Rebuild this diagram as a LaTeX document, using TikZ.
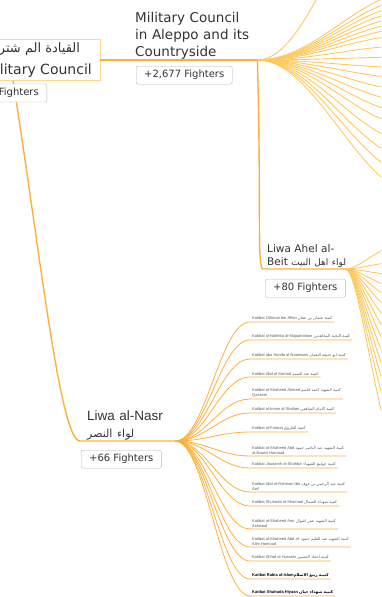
\documentclass[tikz,border=0pt]{standalone}
\usepackage{fontspec}
\setmainfont{DejaVu Sans}
\newfontfamily\arabicfont[Script=Arabic]{DejaVu Sans}
\newfontfamily\helv{Liberation Sans}
\TeXXeTstate=1
\newcommand{\artxt}[1]{{\arabicfont\beginR #1\endR}}
\definecolor{branchcol}{HTML}{FBB03B}
\definecolor{fancol}{HTML}{FFC85C}
\definecolor{rootedge}{HTML}{FCD98C}
\definecolor{boxedge}{HTML}{B5B5B5}
\definecolor{ink}{HTML}{333333}

\begin{document}
\begin{tikzpicture}[x=1pt,y=-1pt,text=ink]

\tikzstyle{title}=[inner sep=0pt,align=left]
\tikzstyle{count}=[draw=boxedge,fill=white,rounded corners=2pt,inner xsep=8pt,
	minimum height=18pt,font=\fontsize{10}{12}\selectfont]
\tikzstyle{katiba}=[inner xsep=2pt,inner ysep=1.2pt,align=left,
	font=\helv\fontsize{4}{5.5}\selectfont,text=black!65]
\tikzstyle{trunk}=[draw=branchcol,line width=1.4pt]
\tikzstyle{twig}=[draw=fancol,line width=0.9pt]
\tikzstyle{leaf}=[draw=branchcol,line width=0.8pt]

\useasboundingbox (0,0) rectangle (381,597);
\clip (0,0) rectangle (381,597);

\node[draw=rootedge,fill=white,align=center,inner xsep=8pt,inner ysep=3pt,
	font=\fontsize{14}{22}\selectfont,anchor=east](root) at (100,60)
	{\artxt{\fontsize{13}{22}\selectfont القيادة الم شتركة}\hspace*{10pt}\\Military Council};

\node[title,anchor=south west,text width=122pt,
	font=\fontsize{13.5}{17}\selectfont](alep) at (135,60)
	{Military Council\\in Aleppo and its\\Countryside};

\node[title,anchor=south west,text width=74pt,inner xsep=4pt,inner ysep=1pt,
	font=\fontsize{10.5}{13}\selectfont](beit) at (263,269)
	{Liwa Ahel al-\\\mbox{Beit \artxt{\fontsize{9}{13}\selectfont لواء اهل البيت}}};

\node[title,anchor=south west,text width=81pt,inner xsep=7pt,inner ysep=1pt,
	font=\helv\fontsize{13.5}{17}\selectfont](nasr) at (80,441)
	{Liwa al-Nasr\\{\fontsize{11}{17}\selectfont\artxt{لواء النصر}}};

\draw[trunk](root.east) -- (alep.south west) -- (alep.south east);
\draw[trunk](alep.south east) .. controls +(4,150) and +(-6,0) .. (beit.south west)
	-- (beit.south east);
\draw[trunk]([xshift=-87pt]root.south east) .. controls +(27,170) and +(-20,0) .. (nasr.south west)
	-- (nasr.south east);

% off-page children
\foreach \y [count=\i] in {-150,-10,-3,3,9,15,21,27,34,45,57,68,79,91,103,115,128,145,162,178,195}{
	\coordinate (a\i) at (420,\y);
	\draw[twig](alep.south east) .. controls +(60,0) and +(-60,0) .. (a\i);
}
\foreach \y [count=\i] in {245,262,275,288,300,313,327,342,358,375,392,410,430,455}{
	\coordinate (b\i) at (400,\y);
	\draw[twig](beit.south east) .. controls +(15,0) and +(-20,0) .. (b\i);
}

\foreach \y/\txt [count=\i] in {
	322/{Katibat Othman bin Affan \artxt{كتيبة عثمان بن عفان}},
	340/{Katibat al-Nakhba al-Mujaahidoon \artxt{كتيبة النخبة المجاهدين}},
	359/{Katibat abu Hanifa al-Naamaan \artxt{كتيبة ابو حنيفة النعمان}},
	377/{Katibat Abd al-Somad \artxt{كتيبة عبد الصمد}},
	399/{Katibat al-Shaheed Ahmed \artxt{كتيبة الشهيد احمد قاسم}\\Qassem},
	413/{Katibat al-Imam al-Shafaei \artxt{كتيبة الامام الشافعي}},
	432/{Katibat al-Farouq \artxt{كتيبة الفاروق}},
	456/{Katibat al-Shaheed Abd \artxt{كتيبة الشهيد عبد الناصر حمود}\\al-Naasir Hamoud},
	468/{Katibat Jouaamh al-Shahba' \artxt{كتيبة جوامع الشهباء}},
	492/{Katibat Abd al-Rahman Ibn \artxt{كتيبة عبد الرحمن بن عوف}\\Awf},
	506/{Katibat Shuhada al-Shamaal \artxt{كتيبة شهداء الشمال}},
	529/{Katibat al-Shaheed Amr \artxt{كتيبة الشهيد عمر اشوال}\\Ashwaal},
	547/{Katibat al-Shaheed Abd al- \artxt{كتيبة الشهيد عبد العليم حمود}\\Alim Hamoud},
	561/{Katibat Ahfad al-Hussein \artxt{كتيبة احفاد الحسين}},
	579/{\bfseries\color{black}Katibat Rabia al-Islam\artxt{كتيبة ربيع الاسلام}},
	596/{\bfseries\color{black}Katibat Shuhada Hiyaan \artxt{كتيبة شهداء حيان}}}{
	\node[katiba,anchor=south west](k\i) at (250,\y){\txt};
	\draw[leaf](nasr.south east) .. controls +(30,0) and +(-30,0) .. (k\i.south west)
		-- (k\i.south east);
}

\node[count,text width=62pt,align=right,anchor=east](rootn) at (47,93){Fighters};
\node[count,anchor=north west](alepn) at (136,66){+2,677 Fighters};
\node[count,anchor=north west](beitn) at (265,279){+80 Fighters};
\node[count,anchor=north west](nasrn) at (81,450){+66 Fighters};

\end{tikzpicture}
\end{document}
